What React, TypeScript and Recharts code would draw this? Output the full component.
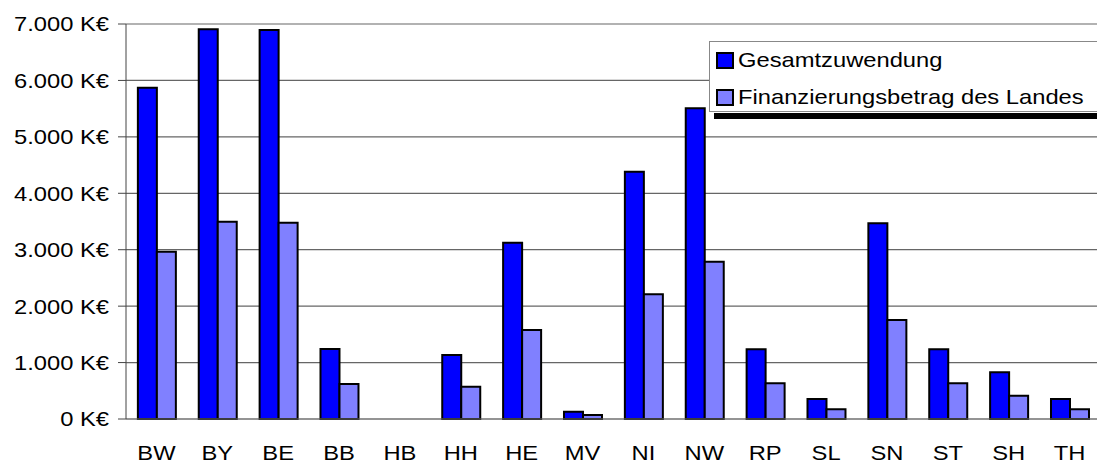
import { BarChart, Bar, XAxis, YAxis, CartesianGrid, Legend } from "recharts";

// Bundesländer
const laender = ["BW", "BY", "BE", "BB", "HB", "HH", "HE", "MV", "NI", "NW", "RP", "SL", "SN", "ST", "SH", "TH"];
// values in K€
const gesamtzuwendung = [5870, 6905, 6893, 1240, 0, 1134, 3124, 130, 4383, 5506, 1235, 354, 3468, 1235, 827, 354];
const landesanteil = [2965, 3497, 3480, 620, 0, 573, 1577, 70, 2210, 2788, 632, 172, 1754, 632, 413, 172];
const yTicks = [0, 1000, 2000, 3000, 4000, 5000, 6000, 7000];
const seriesNames = ["Gesamtzuwendung", "Finanzierungsbetrag des Landes"];

const data = laender.map((land, i) => ({
  land,
  gesamt: gesamtzuwendung[i],
  land_anteil: landesanteil[i],
}));

const FONT = "'Liberation Sans', Arial, sans-serif";
const STRETCH = 1.13; // the original text is a bit wider than Arial

const fmt = (v: number) => (v === 0 ? "0 K€" : (v / 1000).toFixed(3) + " K€");

function XTick({ x, y, payload }: any) {
  return (
    <g transform={`translate(${x},${y})`}>
      <text transform={`scale(${STRETCH},1)`} textAnchor="middle" dy="0.71em" fontFamily={FONT} fontSize={21} fill="#000">
        {payload.value}
      </text>
    </g>
  );
}

function YTick({ x, y, payload }: any) {
  return (
    <g transform={`translate(${x},${y})`}>
      <text transform={`scale(${STRETCH},1)`} textAnchor="end" dy="0.355em" fontFamily={FONT} fontSize={21} fill="#000">
        {fmt(payload.value)}
      </text>
    </g>
  );
}

function LegendBox({ payload }: any) {
  const items = [...(payload || [])].sort(
    (a: any, b: any) => seriesNames.indexOf(a.value) - seriesNames.indexOf(b.value)
  );
  return (
    <div
      style={{
        position: "relative",
        width: 400,
        height: 71,
        background: "#fff",
        border: "1px solid #888",
        boxSizing: "border-box",
        fontFamily: FONT,
        fontSize: 21,
        color: "#000",
      }}
    >
      {items.map((p: any, i: number) => (
        <div
          key={p.value}
          style={{ position: "absolute", left: 6, top: 8 + i * 37, height: 20, display: "flex", alignItems: "center" }}
        >
          <span
            style={{
              display: "inline-block",
              width: 14,
              height: 13,
              background: p.color,
              border: "2px solid #000",
              marginRight: 4,
              flex: "none",
            }}
          />
          <span style={{ display: "inline-block", transform: `scaleX(${STRETCH})`, transformOrigin: "left center", whiteSpace: "nowrap" }}>
            {p.value}
          </span>
        </div>
      ))}
      <div style={{ position: "absolute", left: 4, top: 71, width: 400, height: 6, background: "#000" }} />
    </div>
  );
}

export default function App() {
  return (
    <div style={{ position: "absolute", left: 0, top: 0, width: 1097, height: 464, overflow: "hidden", background: "#fff" }}>
      <BarChart
        width={1100}
        height={464}
        data={data}
        margin={{ top: 24, right: 0, bottom: 0, left: 0 }}
        barGap={0}
        barCategoryGap="19.5%"
      >
        <CartesianGrid vertical={false} stroke="#666" strokeWidth={1.2} />
        <XAxis
          dataKey="land"
          height={45}
          tickLine={false}
          tickMargin={20}
          stroke="#777"
          tick={<XTick />}
          interval={0}
        />
        <YAxis
          width={126}
          domain={[0, 7000]}
          ticks={yTicks}
          tickSize={8}
          tickMargin={9}
          stroke="#444"
          tick={<YTick />}
          interval={0}
        />
        <Legend
          layout="vertical"
          align="center"
          verticalAlign="middle"
          wrapperStyle={{ left: 709, top: 41, width: 400 }}
          content={<LegendBox />}
        />
        <Bar dataKey="gesamt" name={seriesNames[0]} fill="#0000ff" stroke="#000" strokeWidth={2} isAnimationActive={false} />
        <Bar dataKey="land_anteil" name={seriesNames[1]} fill="#8080ff" stroke="#000" strokeWidth={2} isAnimationActive={false} />
      </BarChart>
    </div>
  );
}
